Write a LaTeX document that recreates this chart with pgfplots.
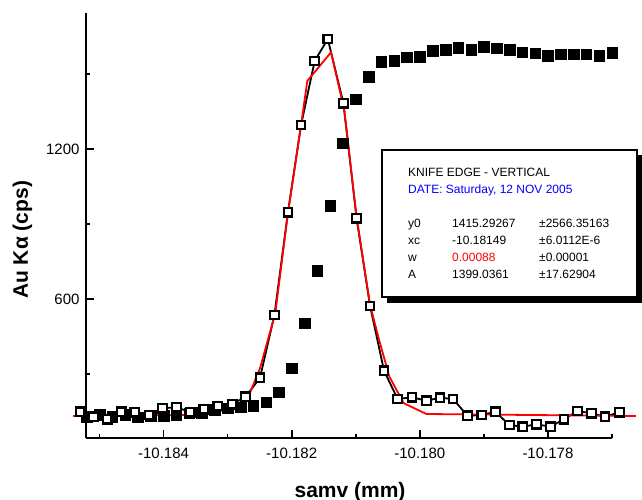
\documentclass[border=0pt]{standalone}
\usepackage{pgfplots}
\pgfplotsset{compat=1.18}
\usepackage{fontspec}
\setmainfont{Liberation Sans}

% x values are stored as (samv + 10.180 mm) * 1000, i.e. micrometres from -10.180 mm,
% so that pgf's floating point keeps enough digits; the tick labels give the real values.

\begin{document}
\begin{tikzpicture}[x=1pt,y=1pt]
\useasboundingbox (0,0) rectangle (642,500);
\begin{axis}[
    at={(86pt,62pt)}, anchor=south west,
    width=526pt, height=425pt, scale only axis,
    xmin=-5.21, xmax=3, ymin=44, ymax=1744,
    axis x line*=bottom, axis y line*=left,
    axis line style={line width=2.5pt, -},
    xtick={-4,-2,0,2},
    xticklabels={-10.184,-10.182,-10.180,-10.178},
    minor xtick={-5,-3,-1,1,3},
    ytick={600,1200}, yticklabels={600,1200},
    minor ytick={300,900,1500},
    tick align=inside,
    major tick length=8pt, minor tick length=4pt,
    every tick/.style={black, line width=1.8pt},
    ticklabel style={font=\fontsize{15}{17}\selectfont},
    xticklabel style={yshift=-6pt},
    yticklabel style={xshift=-3pt},
    xlabel={\bfseries samv (mm)},
    xlabel style={font=\fontsize{21}{24}\selectfont, at={(axis description cs:0.502,-0.139)}, anchor=base},
    ylabel={\bfseries Au Kα (cps)},
    ylabel style={font=\fontsize{21}{24}\selectfont, at={(axis description cs:-0.121,0.466)}, anchor=center},
    clip=false,
]
% filled squares
\addplot[only marks, mark=square*, mark size=5.3pt, black] coordinates {
(-5.2,129)(-5.0,136)(-4.8,129)(-4.6,136)(-4.4,127)(-4.2,132)(-4.0,132)
(-3.8,136)(-3.6,143)(-3.4,145)(-3.2,156)(-3.0,163)(-2.8,167)(-2.6,172)
(-2.4,187)(-2.2,227)(-2.0,323)(-1.8,503)(-1.6,713)(-1.4,973)(-1.2,1223)
(-1.0,1399)(-0.8,1489)(-0.6,1549)(-0.4,1552)(-0.2,1567)(0.0,1569)(0.2,1592)
(0.4,1596)(0.6,1605)(0.8,1596)(1.0,1609)(1.2,1603)(1.4,1596)(1.6,1587)
(1.8,1583)(2.0,1572)(2.2,1579)(2.4,1579)(2.6,1579)(2.8,1573)(3.0,1585)
};
% open squares with line
\addplot[black, line width=1.8pt, mark=square*,
    mark options={fill=white, draw=black, line width=2.2pt, mark size=4.3pt, solid}] coordinates {
(-5.301,149)(-5.090,129)(-4.878,119)(-4.660,149)(-4.449,147)(-4.224,136)
(-4.013,163)(-3.795,167)(-3.583,147)(-3.372,159)(-3.154,172)(-2.929,179)
(-2.718,209)(-2.494,285)(-2.269,536)(-2.058,947)(-1.853,1296)(-1.641,1552)
(-1.436,1640)(-1.192,1383)(-0.987,923)(-0.776,572)(-0.558,313)(-0.346,200)
(-0.122,207)(0.103,193)(0.314,205)(0.519,200)(0.744,133)(0.968,136)
(1.179,149)(1.397,96)(1.609,89)(1.821,99)(2.038,89)(2.250,119)
(2.462,152)(2.679,143)(2.891,129)(3.115,147)
};
% fit
\addplot[red, line width=1.8pt] coordinates {
(-5.410,132)(-3.551,136)(-3.167,149)(-2.846,167)(-2.654,223)(-2.494,323)
(-2.256,543)(-2.058,943)(-1.853,1296)(-1.756,1472)(-1.385,1587)(-1.179,1355)
(-0.987,929)(-0.776,576)(-0.635,436)(-0.474,289)(-0.250,183)(0.103,140)
(3.372,132)
};
\end{axis}
% fit results box
\fill[black] (387,197) rectangle (642,345);
\draw[line width=1.5pt, fill=white] (382,203) rectangle (637,350);
\begin{scope}[every node/.style={anchor=base west, inner sep=0pt, font=\fontsize{12}{14}\selectfont}]
\node at (408,323.7) {KNIFE EDGE - VERTICAL};
\node[text=blue] at (408,306.7) {DATE: Saturday, 12 NOV 2005};
\node at (408,272.7) {y0};  \node at (452,272.7) {1415.29267}; \node at (539,272.7) {±2566.35163};
\node at (408,255.7) {xc};  \node at (452,255.7) {-10.18149};  \node at (539,255.7) {±6.0112E-6};
\node at (408,238.7) {w};   \node[text=red] at (452,238.7) {0.00088}; \node at (539,238.7) {±0.00001};
\node at (408,221.7) {A};   \node at (452,221.7) {1399.0361};  \node at (539,221.7) {±17.62904};
\end{scope}
\end{tikzpicture}
\end{document}
